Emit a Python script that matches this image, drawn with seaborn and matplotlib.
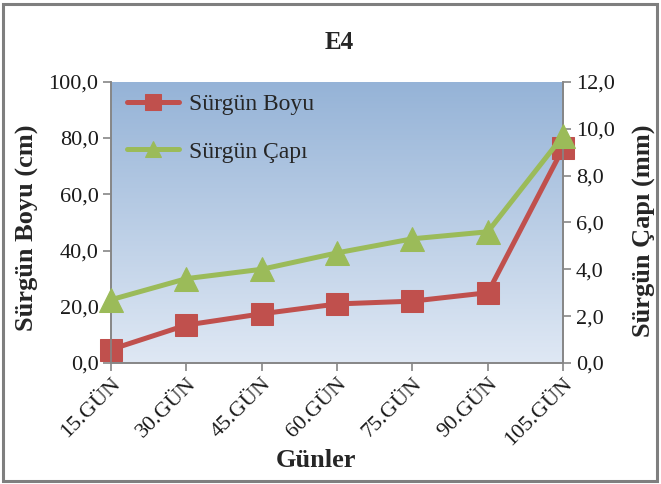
import numpy as np
import pandas as pd
import matplotlib
matplotlib.use("Agg")
import matplotlib.pyplot as plt
import seaborn as sns
from matplotlib.patches import Rectangle
from matplotlib.ticker import FuncFormatter

categories = ["15.GÜN", "30.GÜN", "45.GÜN", "60.GÜN", "75.GÜN", "90.GÜN", "105.GÜN"]
boy_values = [4.8, 13.5, 17.5, 21.0, 22.0, 25.0, 76.5]
cap_values = [2.7, 3.6, 4.0, 4.7, 5.3, 5.6, 9.7]
left_ticks = [0, 20, 40, 60, 80, 100]
right_ticks = [0, 2, 4, 6, 8, 10, 12]

sns.set_theme(style="white")
plt.rcParams["font.family"] = ["Liberation Serif", "DejaVu Serif"]

RED = "#C0504D"
GREEN = "#9BBB59"
AXC = "#868686"

fig = plt.figure(figsize=(6.61, 4.84), dpi=100)
ax = fig.add_axes([0.168, 0.25, 0.684, 0.581])
ax2 = ax.twinx()

# gradient background
grad = np.linspace(0, 1, 256).reshape(-1, 1)
top = np.array([0x95, 0xB3, 0xD7]) / 255
bot = np.array([0xDF, 0xE8, 0xF4]) / 255
img = top[None, None, :] * (1 - grad[:, :, None]) + bot[None, None, :] * grad[:, :, None]
ax.imshow(img, extent=[0, 1, 0, 1], transform=ax.transAxes, aspect="auto", zorder=0)

df = pd.DataFrame({"Gün": categories, "Boy": boy_values, "Cap": cap_values})
df["x"] = np.arange(len(categories))

sns.lineplot(data=df, x="x", y="Boy", ax=ax, color=RED, marker="s", markersize=16,
             linewidth=3.6, markeredgecolor=RED, label="Sürgün Boyu", legend=False,
             clip_on=False, zorder=3)
sns.lineplot(data=df, x="x", y="Cap", ax=ax2, color=GREEN, marker="^", markersize=17,
             linewidth=3.6, markeredgecolor=GREEN, label="Sürgün Çapı", legend=False,
             clip_on=False, zorder=3)

ax.set_xlim(0, len(categories) - 1)
ax.set_ylim(0, 100)
ax2.set_ylim(0, 12)
ax.set_xticks(df["x"])
ax.set_xticklabels(categories, rotation=45, ha="right", rotation_mode="anchor", fontsize=16)
ax.set_yticks(left_ticks)
ax2.set_yticks(right_ticks)
fmt = FuncFormatter(lambda v, p: f"{v:.1f}".replace(".", ","))
ax.yaxis.set_major_formatter(fmt)
ax2.yaxis.set_major_formatter(fmt)

for a in (ax, ax2):
    for s in a.spines.values():
        s.set_color(AXC)
        s.set_linewidth(1.2)
    a.spines["top"].set_visible(False)
    a.tick_params(colors=AXC, labelcolor="#1a1a1a", labelsize=16, length=6, width=1.2)
    a.grid(False)
ax.tick_params(axis="y", left=True, direction="out", pad=3)
ax.tick_params(axis="x", bottom=True, direction="out", pad=2)
ax2.tick_params(axis="y", right=True, direction="out", pad=3)
ax.set_zorder(1)
ax2.set_zorder(2)
ax2.patch.set_visible(False)

ax.set_xlabel("Günler", fontsize=19, fontweight="bold")
ax.xaxis.set_label_coords(0.454, -0.305)
ax.set_ylabel("Sürgün Boyu (cm)", fontsize=19, fontweight="bold")
ax.yaxis.set_label_coords(-0.16, 0.48)
ax2.set_ylabel("Sürgün Çapı (mm)", fontsize=19, fontweight="bold", rotation=90)
ax2.yaxis.set_label_coords(1.155, 0.47)
fig.suptitle("E4", x=0.513, y=0.935, fontsize=18, fontweight="bold")

handles = ax.get_lines()[:1] + ax2.get_lines()[:1]
ax.legend(handles, ["Sürgün Boyu", "Sürgün Çapı"], loc="upper left", frameon=False,
          fontsize=17, handlelength=2.2, labelspacing=1.1, borderaxespad=0.1,
          handletextpad=0.4, bbox_to_anchor=(0.01, 1.0))
leg = ax.get_legend()
leg.set_zorder(10)
for h in leg.legend_handles:
    h.set_markersize(12)

fig.add_artist(Rectangle((0.004, 0.006), 0.99, 0.986, transform=fig.transFigure,
                         fill=False, edgecolor="#7f7f7f", linewidth=2.2))

fig.savefig("out.png", dpi=100)
